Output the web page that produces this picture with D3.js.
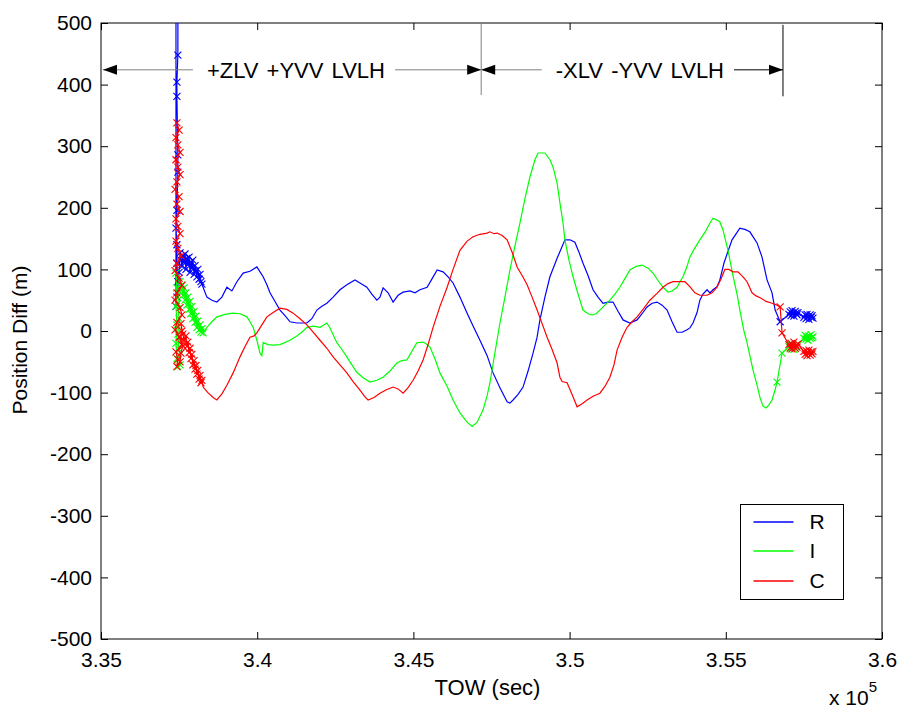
<!DOCTYPE html>
<html>
<head>
<meta charset="utf-8">
<script src="https://cdn.jsdelivr.net/npm/d3@7"></script>
<style>
  body { margin: 0; background: #fff; }
  text { font-family: "Liberation Sans", Arial, sans-serif; }
</style>
</head>
<body>
<div id="chart"></div>
<script>
// axis ticks
const xTicks = [335000, 340000, 345000, 350000, 355000, 360000];
const xTickLabels = ["3.35", "3.4", "3.45", "3.5", "3.55", "3.6"];
const yTicks = [-500, -400, -300, -200, -100, 0, 100, 200, 300, 400, 500];

// R (blue): start with markers, middle line only, end with markers
const rStartT = [337400,337400,337500,337460,337430,337430,337460,337460,337430,337400,337430,337430,337460,337430,337500,337530,337560,337590,337620,337660,337690,337720,337750,337780,337820,337850,337880,337910,337940,337980,338010,338040,338070,338100,338140,338170,338200,338230];
const rStartV = [40,1500,1500,448,404,381,286,258,196,167,140,110,80,55,95,127,115,105,122,112,125,100,118,108,120,95,112,102,115,92,106,98,88,100,84,92,80,76];
const rT = [338390,338550,338710,338870,339030,339190,339350,339550,339770,339990,340090,340190,340310,340410,340570,340730,340890,341050,341270,341590,341750,341910,342070,342230,342430,342650,342870,343130,343290,343510,343670,343830,343930,344030,344190,344350,344510,344670,344890,345050,345210,345440,345600,345760,345950,346110,346270,346490,346720,346910,347130,347360,347550,347770,348000,348090,348190,348350,348510,348670,348830,348960,349050,349210,349370,349600,349850,350010,350170,350300,350430,350590,350750,350910,351070,351230,351390,351550,351710,351930,352160,352320,352480,352640,352800,352960,353120,353280,353440,353600,353760,353850,353950,354080,354170,354270,354400,354490,354590,354720,354810,354940,355040,355200,355360,355450,355610,355770,356000,356160,356320,356480,356580];
const rV = [55,50,47,55,71,65,80,94,97,104,96,88,75,62,48,34,25,15,13,13,20,34,40,45,55,67,75,83,78,71,60,50,55,70,62,47,58,63,65,62,67,71,85,99,96,88,78,55,29,8,-15,-40,-68,-92,-115,-117,-112,-103,-91,-65,-36,-10,18,55,88,118,148,148,144,128,110,90,67,55,45,47,47,32,18,13,18,28,39,45,47,42,34,15,-2,-2,2,5,13,30,50,60,67,62,67,72,83,110,125,148,160,167,165,161,143,120,83,62,34];
const rEndT = [356740,357020,357060,357090,357120,357150,357180,357220,357250,357280,357310,357500,357540,357570,357600,357630,357660,357700,357730,357760,357790];
const rEndV = [15,27,31,25,33,28,24,32,29,26,30,22,26,20,27,23,19,26,22,25,21];

// I (green)
const iStartT = [337400,337430,337400,337430,337400,337430,337460,337530,337500,337460,337500,337460,337500,337530,337560,337590,337620,337660,337690,337720,337750,337780,337820,337850,337880,337910,337940,337980,338010,338040,338070,338100,338140,338170,338200,338230,338270];
const iStartV = [94,70,40,10,-20,-45,-58,-55,-30,-5,20,45,65,80,68,75,58,70,50,62,42,55,35,48,28,40,20,32,14,24,6,16,2,10,-2,4,-3];
const iT = [338390,338550,338710,338970,339230,339450,339670,339770,339870,339990,340090,340150,340190,340350,340510,340730,341050,341270,341470,341590,341790,342010,342140,342230,342330,342550,342710,342870,343030,343190,343390,343610,343830,344030,344250,344470,344630,344790,344950,345110,345310,345440,345530,345690,345850,346080,346270,346490,346720,346880,347040,347230,347360,347450,347610,347770,347930,348090,348250,348410,348570,348730,348890,348990,349210,349370,349470,349600,349690,349790,349850,349980,350110,350270,350430,350590,350720,350850,350970,351130,351290,351450,351610,351770,351930,352130,352320,352510,352670,352830,352990,353150,353280,353440,353530,353630,353760,353850,354010,354170,354330,354490,354590,354720,354810,354910,355070,355230,355360,355450,355580,355680,355770,355870,356000,356100,356190,356290,356380,356480,356580];
const iV = [6,15,23,27,29,28,23,15,6,-15,-36,-40,-19,-22,-23,-22,-15,-8,0,6,8,6,10,13,5,-19,-30,-42,-55,-67,-76,-83,-80,-75,-65,-52,-48,-47,-33,-19,-18,-22,-26,-45,-68,-90,-112,-133,-148,-155,-148,-128,-105,-84,-35,13,55,99,138,175,215,250,278,289,289,278,266,240,208,175,148,115,88,60,34,28,26,28,34,42,50,60,71,85,99,105,107,102,94,82,71,63,65,71,80,88,105,120,135,148,160,175,183,180,177,164,131,90,60,34,0,-19,-40,-63,-88,-109,-122,-125,-120,-112,-95];
const iEndT = [356640,356800,357020,357060,357090,357120,357150,357180,357220,357250,357500,357540,357570,357600,357630,357660,357700,357730,357760,357790];
const iEndV = [-83,-36,-25,-29,-22,-27,-23,-30,-24,-26,-12,-7,-13,-9,-15,-8,-12,-6,-11,-9];

// C (red)
const cStartT = [337430,337500,337400,337460,337530,337400,337460,337530,337430,337370,337500,337430,337530,337400,337460,337530,337400,337460,337560,337430,337370,337500,337590,337430,337370,337530,337590,337430,337370,337500,337590,337400,337460,337430,337530,337560,337620,337530,337590,337560,337620,337660,337720,337750,337780,337820,337850,337880,337910,337940,337980,338010,338040,338070,338100,338140,338170,338200,338230];
const cStartV = [338,326,314,302,290,278,266,254,242,230,218,206,194,182,170,158,146,134,122,110,98,86,74,62,50,38,26,14,2,-10,-22,-34,-46,-58,-50,-36,-24,-10,0,12,-5,-15,-8,-25,-18,-35,-28,-45,-38,-55,-48,-62,-56,-70,-64,-78,-72,-84,-80];
const cT = [338270,338420,338590,338710,338870,339030,339230,339450,339610,339770,339900,339990,340150,340310,340510,340730,340950,341150,341370,341590,341790,342010,342230,342430,342650,342870,343070,343290,343450,343550,343740,343930,344150,344350,344510,344670,344830,344990,345150,345310,345470,345630,345850,346080,346270,346490,346720,346910,347130,347360,347450,347580,347680,347840,348000,348160,348320,348480,348640,348800,348960,349120,349280,349440,349600,349690,349760,349920,350080,350240,350400,350560,350750,350970,351130,351290,351420,351520,351680,351840,352000,352160,352350,352570,352800,352990,353150,353310,353530,353690,353850,354010,354170,354400,354560,354720,354850,354970,355100,355230,355390,355550,355680,355840,355970,356100,356290,356480,356640];
const cV = [-91,-100,-108,-112,-102,-88,-68,-42,-25,-10,-8,-3,10,23,30,37,35,29,20,10,-2,-15,-28,-42,-55,-68,-82,-96,-107,-112,-108,-101,-95,-91,-94,-101,-92,-80,-65,-47,-22,6,40,71,100,131,146,153,157,159,161,158,159,155,148,128,104,90,75,55,34,12,-10,-30,-52,-75,-82,-84,-103,-123,-118,-112,-106,-101,-90,-75,-55,-31,-10,6,15,23,35,50,61,71,77,80,80,80,72,62,58,58,62,71,85,100,100,96,96,88,80,62,57,54,48,45,42];
const cEndT = [356740,356800,357020,357060,357090,357120,357150,357180,357220,357250,357280,357310,357500,357540,357570,357600,357630,357660,357700,357730,357760,357790];
const cEndV = [39,-3,-22,-27,-20,-29,-24,-18,-28,-23,-26,-21,-33,-38,-32,-40,-35,-31,-39,-34,-37,-33];

// attitude annotations along the top
const annoLevel = 424;
const annoBounds = [335000, 347170, 356830];
const annoLabels = ["+ZLV +YVV LVLH", "-XLV -YVV LVLH"];
const annoCenters = [341240, 352250];

const W = 900, H = 711;
const x = d3.scaleLinear().domain([335000, 360000]).range([101, 882]);
const y = d3.scaleLinear().domain([-500, 500]).range([639, 23]);

const svg = d3.select("#chart").append("svg")
  .attr("width", W).attr("height", H)
  .style("display", "block");

svg.append("defs").append("clipPath").attr("id", "plotClip")
  .append("rect")
  .attr("x", x(335000)).attr("y", y(500))
  .attr("width", x(360000) - x(335000)).attr("height", y(-500) - y(500));

const tickFont = 21;
const labelFont = 22;

// axes, ticks pointing inward
svg.append("g").attr("transform", `translate(0,${y(-500)})`)
  .call(d3.axisBottom(x).tickValues(xTicks).tickFormat((d, i) => xTickLabels[i])
    .tickSize(-7).tickSizeOuter(0).tickPadding(13));
svg.append("g").attr("transform", `translate(0,${y(500)})`)
  .call(d3.axisTop(x).tickValues(xTicks).tickFormat("").tickSize(-7).tickSizeOuter(0));
svg.append("g").attr("transform", `translate(${x(335000)},0)`)
  .call(d3.axisLeft(y).tickValues(yTicks).tickFormat(d => String(d))
    .tickSize(-7).tickSizeOuter(0).tickPadding(9));
svg.append("g").attr("transform", `translate(${x(360000)},0)`)
  .call(d3.axisRight(y).tickValues(yTicks).tickFormat("").tickSize(-7).tickSizeOuter(0));

svg.selectAll(".domain").remove();
svg.selectAll(".tick line").attr("stroke", "#000");
svg.selectAll(".tick text")
  .attr("fill", "#000")
  .style("font-size", tickFont + "px")
  .style("font-family", "'Liberation Sans', Arial, sans-serif");

svg.append("rect")
  .attr("x", x(335000)).attr("y", y(500))
  .attr("width", x(360000) - x(335000)).attr("height", y(-500) - y(500))
  .attr("fill", "none").attr("stroke", "#000").attr("stroke-width", 1);

// series
const zip = (t, v) => t.map((d, i) => [d, v[i]]);
const series = [
  { name: "R", color: "#0000ff", start: zip(rStartT, rStartV), mid: zip(rT, rV), end: zip(rEndT, rEndV) },
  { name: "I", color: "#00ff00", start: zip(iStartT, iStartV), mid: zip(iT, iV), end: zip(iEndT, iEndV) },
  { name: "C", color: "#ff0000", start: zip(cStartT, cStartV), mid: zip(cT, cV), end: zip(cEndT, cEndV) }
];

const line = d3.line().x(d => x(d[0])).y(d => y(d[1]));
const plot = svg.append("g").attr("clip-path", "url(#plotClip)");

series.forEach(s => {
  plot.append("path")
    .datum([...s.start, ...s.mid, ...s.end])
    .attr("fill", "none")
    .attr("stroke", s.color)
    .attr("stroke-width", 1.2)
    .attr("d", line);

  plot.selectAll(null)
    .data([...s.start, ...s.end])
    .enter()
    .append("path")
    .attr("transform", d => `translate(${x(d[0])},${y(d[1])})`)
    .attr("d", "M-3.5,-3.5L3.5,3.5M-3.5,3.5L3.5,-3.5")
    .attr("stroke", s.color)
    .attr("stroke-width", 1.1)
    .attr("fill", "none");
});

// annotations
const ay = y(annoLevel);
const anno = svg.append("g");
const arrow = (tipX, dir, color) => {
  // dir = -1 points left, +1 points right
  anno.append("path")
    .attr("d", `M${tipX},${ay}L${tipX - dir * 14},${ay - 5}L${tipX - dir * 14},${ay + 5}Z`)
    .attr("fill", color);
};

annoLabels.forEach((label, i) => {
  const t = anno.append("text")
    .attr("x", x(annoCenters[i]))
    .attr("y", ay)
    .attr("dy", "0.35em")
    .attr("text-anchor", "middle")
    .style("font-size", labelFont + "px")
    .style("word-spacing", "2px")
    .text(label);
  const bb = t.node().getBBox();
  const x0 = x(annoBounds[i]) + (i === 0 ? 2 : 0);
  const x1 = x(annoBounds[i + 1]);
  anno.append("line")
    .attr("x1", x0).attr("x2", bb.x - 14)
    .attr("y1", ay).attr("y2", ay)
    .attr("stroke", "#808080");
  anno.append("line")
    .attr("x1", bb.x + bb.width + 10).attr("x2", x1)
    .attr("y1", ay).attr("y2", ay)
    .attr("stroke", i === 0 ? "#808080" : "#000");
  arrow(x0, -1, "#000");
  arrow(x1, 1, "#000");
});

anno.append("line")
  .attr("x1", x(annoBounds[1])).attr("x2", x(annoBounds[1]))
  .attr("y1", y(500)).attr("y2", y(383))
  .attr("stroke", "#808080");
anno.append("line")
  .attr("x1", x(annoBounds[2])).attr("x2", x(annoBounds[2]))
  .attr("y1", y(497)).attr("y2", y(381))
  .attr("stroke", "#000");

// axis labels
svg.append("text")
  .attr("x", (x(335000) + x(360000)) / 2 - 4)
  .attr("y", 695)
  .attr("text-anchor", "middle")
  .style("font-size", labelFont + "px")
  .text("TOW (sec)");

svg.append("text")
  .attr("transform", `translate(27,${(y(-500) + y(500)) / 2 + 9}) rotate(-90)`)
  .attr("text-anchor", "middle")
  .style("font-size", "21px")
  .text("Position Diff (m)");

const mult = svg.append("text")
  .attr("x", 829)
  .attr("y", 705)
  .style("font-size", tickFont + "px");
mult.append("tspan").text("x 10");
mult.append("tspan").attr("dy", -13).style("font-size", "15px").text("5");

// legend
const lg = svg.append("g").attr("transform", "translate(740.5,504.5)");
lg.append("rect")
  .attr("width", 103).attr("height", 95)
  .attr("fill", "#fff").attr("stroke", "#000");
series.forEach((s, i) => {
  const ly = [17.5, 46.5, 76.5][i];
  lg.append("line")
    .attr("x1", 13).attr("x2", 53)
    .attr("y1", ly).attr("y2", ly)
    .attr("stroke", s.color).attr("stroke-width", 1.4);
  lg.append("text")
    .attr("x", 69).attr("y", ly)
    .attr("dy", "0.35em")
    .style("font-size", tickFont + "px")
    .text(s.name);
});
</script>
</body>
</html>
